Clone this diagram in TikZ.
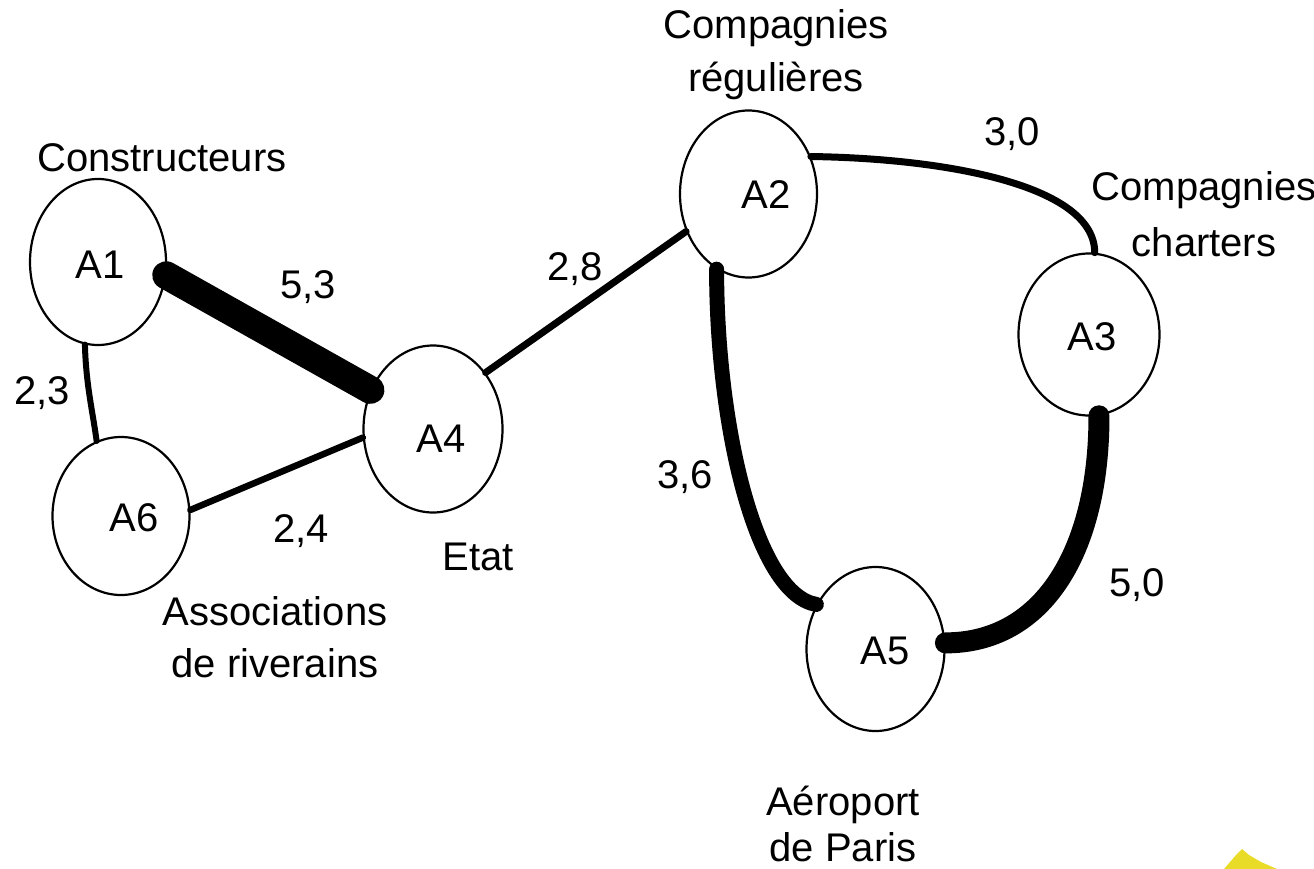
\documentclass[tikz,border=0pt]{standalone}
\usepackage{fontspec}
\setmainfont{Liberation Sans}
\usetikzlibrary{shapes.geometric}
\definecolor{staryellow}{RGB}{232,220,40}
\begin{document}
\begin{tikzpicture}[x=1pt,y=-1pt,
  actor/.style={ellipse, draw, line width=2.2pt, inner sep=0pt},
  lbl/.style={font=\fontsize{40}{48}\selectfont, inner sep=0pt, anchor=base},
  mlbl/.style={font=\fontsize{40}{#1}\selectfont, inner sep=0pt, anchor=base, align=center},
  link/.style={line width=#1, line cap=round}
]
\useasboundingbox (0,0) rectangle (1314,869);

% actors
\node[actor, minimum width=136pt, minimum height=166pt] (a1) at (98,262) {};
\node[actor, minimum width=137pt, minimum height=167pt] (a2) at (748.5,194) {};
\node[actor, minimum width=141pt, minimum height=162pt] (a3) at (1089,334.5) {};
\node[actor, minimum width=139pt, minimum height=167pt] (a4) at (433,429) {};
\node[actor, minimum width=138pt, minimum height=164pt] (a5) at (875.5,649) {};
\node[actor, minimum width=137pt, minimum height=158pt] (a6) at (121,516) {};

% actor codes
\node[lbl] (t1) at (100,278) {A1};
\node[lbl] (t2) at (766,209) {A2};
\node[lbl] (t3) at (1092,350) {A3};
\node[lbl] (t4) at (441,452) {A4};
\node[lbl] (t5) at (885,664) {A5};
\node[lbl] (t6) at (134,531) {A6};

% actor names
\node[lbl] (n1) at (162,172) {Constructeurs};
\node[mlbl=53pt] (n2) at (776,92) {Compagnies\\régulières};
\node[mlbl=56pt] (n3) at (1204,256) {Compagnies\\charters};
\node[lbl] (n4) at (478,570) {Etat};
\node[mlbl=46pt] (n5) at (843,861) {Aéroport\\de Paris};
\node[mlbl=52pt] (n6) at (275,677) {Associations\\de riverains};

% links
\draw[link=28pt] (a1.-11) -- (a4.148);
\draw[link=6pt] (a1.-99) .. controls +(1,40) and +(-4,-30) .. (a6.108);
\draw[link=6.5pt] (a6.5) -- (a4.187);
\draw[link=7pt] (a4.47.5) -- (a2.211.6);
\draw[link=15pt] (a2.-113) .. controls +(0,159) and +(-60,-10) .. (a5.143);
\draw[link=21pt] (a3.-83.5) .. controls +(0,135) and +(98,0) .. (a5.5);
\draw[link=7pt] (a2.31.8) .. controls +(137,2) and +(0,-67) .. (a3.86.3);

% link weights
\node[lbl] (w14) at (308,298) {5,3};
\node[lbl] (w16) at (42,404) {2,3};
\node[lbl] (w64) at (301,542) {2,4};
\node[lbl] (w42) at (575,280) {2,8};
\node[lbl] (w23) at (1012,146) {3,0};
\node[lbl] (w25) at (685,488) {3,6};
\node[lbl] (w35) at (1137,596) {5,0};

% yellow shape in the corner
\fill[staryellow] (1224,869) -- (1236,855) -- (1242,849) -- (1249,855) -- (1261,862) -- (1277,869) -- cycle;
\end{tikzpicture}
\end{document}
